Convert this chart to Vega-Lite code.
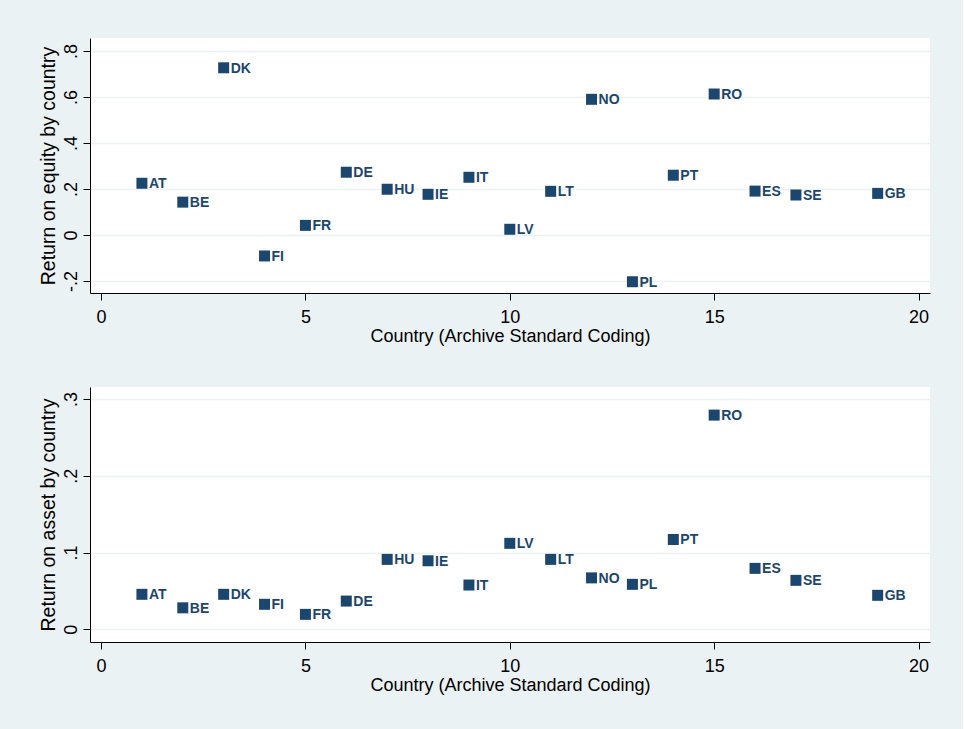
{
  "$schema": "https://vega.github.io/schema/vega-lite/v6.json",
  "autosize": {"type": "pad"},
  "padding": {"left": 37, "top": 38, "right": 33, "bottom": 38},
  "background": "#EAF2F3",
  "bounds": "flush",
  "spacing": 94,
  "datasets": {
    "banks": [
      {"code": 1, "country": "AT", "roe": 0.225, "roa": 0.0456},
      {"code": 2, "country": "BE", "roe": 0.143, "roa": 0.028},
      {"code": 3, "country": "DK", "roe": 0.727, "roa": 0.0456},
      {"code": 4, "country": "FI", "roe": -0.091, "roa": 0.0326},
      {"code": 5, "country": "FR", "roe": 0.042, "roa": 0.0195},
      {"code": 6, "country": "DE", "roe": 0.273, "roa": 0.0368},
      {"code": 7, "country": "HU", "roe": 0.199, "roa": 0.0911},
      {"code": 8, "country": "IE", "roe": 0.177, "roa": 0.0893},
      {"code": 9, "country": "IT", "roe": 0.251, "roa": 0.0577},
      {"code": 10, "country": "LV", "roe": 0.025, "roa": 0.112},
      {"code": 11, "country": "LT", "roe": 0.19, "roa": 0.0911},
      {"code": 12, "country": "NO", "roe": 0.59, "roa": 0.067},
      {"code": 13, "country": "PL", "roe": -0.203, "roa": 0.0586},
      {"code": 14, "country": "PT", "roe": 0.26, "roa": 0.117},
      {"code": 15, "country": "RO", "roe": 0.613, "roa": 0.279},
      {"code": 16, "country": "ES", "roe": 0.191, "roa": 0.0794},
      {"code": 17, "country": "SE", "roe": 0.174, "roa": 0.0638},
      {"code": 19, "country": "GB", "roe": 0.181, "roa": 0.0443}
    ]
  },
  "vconcat": [
    {
      "width": 840,
      "height": 255,
      "data": {"name": "banks"},
      "encoding": {
        "x": {
          "field": "code", "type": "quantitative",
          "scale": {"domain": [-0.27, 20.28], "nice": false, "zero": false},
          "axis": {"values": [0, 5, 10, 15, 20], "format": "d", "grid": false, "title": "Country (Archive Standard Coding)"}
        },
        "y": {
          "field": "roe", "type": "quantitative",
          "scale": {"domain": [-0.252, 0.8565], "nice": false, "zero": false},
          "axis": {
            "values": [-0.2, 0, 0.2, 0.4, 0.6, 0.8],
            "labelExpr": "datum.value == 0 ? '0' : (datum.value < 0 ? '-' : '') + substring(format(abs(datum.value), '.1f'), 1)",
            "grid": true,
            "title": "Return on equity by country"
          }
        }
      },
      "layer": [
        {"mark": {"type": "point", "shape": "square", "filled": true, "size": 121, "color": "#1a476f", "opacity": 1}},
        {"mark": {"type": "text", "align": "left", "baseline": "middle", "dx": 7, "dy": 1, "fontSize": 14, "fontWeight": "bold", "color": "#1a476f"},
         "encoding": {"text": {"field": "country"}}}
      ]
    },
    {
      "width": 840,
      "height": 255,
      "data": {"name": "banks"},
      "encoding": {
        "x": {
          "field": "code", "type": "quantitative",
          "scale": {"domain": [-0.27, 20.28], "nice": false, "zero": false},
          "axis": {"values": [0, 5, 10, 15, 20], "format": "d", "grid": false, "title": "Country (Archive Standard Coding)"}
        },
        "y": {
          "field": "roa", "type": "quantitative",
          "scale": {"domain": [-0.0165, 0.3156], "nice": false, "zero": false},
          "axis": {
            "values": [0, 0.1, 0.2, 0.3],
            "labelExpr": "datum.value == 0 ? '0' : (datum.value < 0 ? '-' : '') + substring(format(abs(datum.value), '.1f'), 1)",
            "grid": true,
            "title": "Return on asset by country"
          }
        }
      },
      "layer": [
        {"mark": {"type": "point", "shape": "square", "filled": true, "size": 121, "color": "#1a476f", "opacity": 1}},
        {"mark": {"type": "text", "align": "left", "baseline": "middle", "dx": 7, "dy": 1, "fontSize": 14, "fontWeight": "bold", "color": "#1a476f"},
         "encoding": {"text": {"field": "country"}}}
      ]
    }
  ],
  "config": {
    "font": "Liberation Sans",
    "view": {"fill": "white", "stroke": null},
    "axis": {
      "labelFont": "Liberation Sans",
      "titleFont": "Liberation Sans",
      "labelFontSize": 18,
      "titleFontSize": 18,
      "titleFontWeight": "normal",
      "labelColor": "#000000",
      "titleColor": "#000000",
      "domainColor": "#000000",
      "domainWidth": 1,
      "tickColor": "#000000",
      "tickSize": 7,
      "gridColor": "#EAF2F3",
      "gridWidth": 1.5,
      "labelFlush": false,
      "labelOverlap": false
    },
    "axisX": {"labelPadding": 8, "titlePadding": 1},
    "axisY": {"labelAngle": -90, "labelAlign": "center", "labelBaseline": "alphabetic", "labelPadding": 7, "titlePadding": 4, "titleFontSize": 19.5}
  }
}
